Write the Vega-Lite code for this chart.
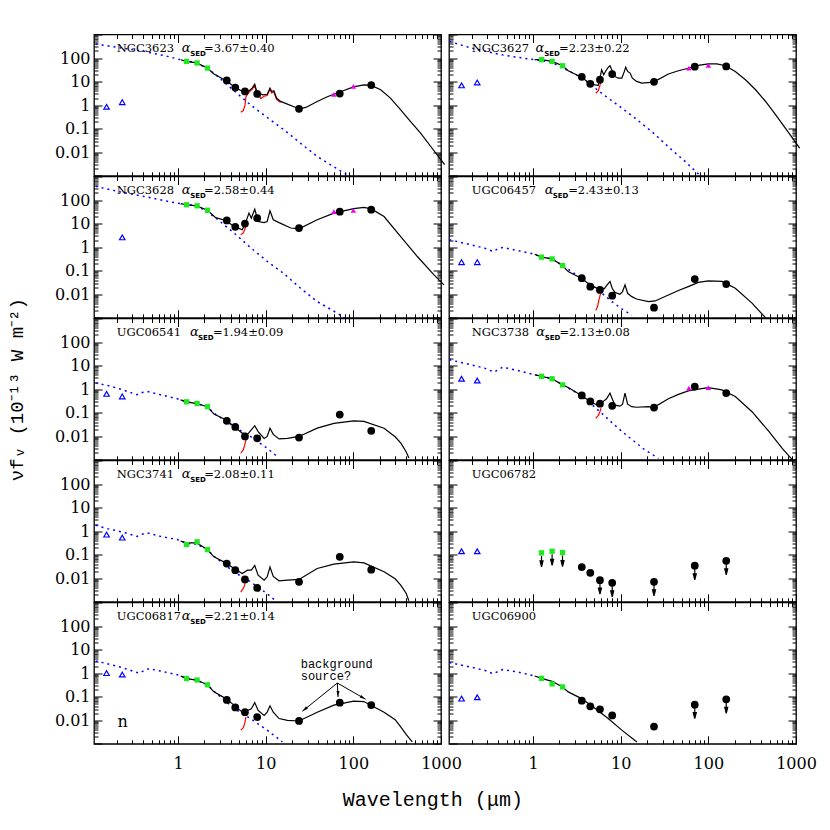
{
"$schema":"https://vega.github.io/schema/vega-lite/v6.json",
"background":"white",
"padding":{"left":6,"top":25.5,"right":5,"bottom":5},
"title":{"text":"Wavelength (μm)","orient":"bottom","anchor":"middle","font":"Liberation Mono","fontSize":20,"fontWeight":"normal","color":"black","offset":14,"dx":21},
"bounds":"flush",
"columns":2,
"spacing":{"row":0,"column":8},
"concat":[
{"width":347,"height":141.3,"resolve":{"axis":{"x":"independent","y":"independent"}},"layer":[
{"data":{"name":"p1"},"transform":[{"filter":"datum.s=='st'"}],"mark":{"type":"line","color":"#0000ff","strokeDash":[2,4],"strokeWidth":1.5},"encoding":{"x":{"field":"w","type":"quantitative","scale":{"type":"log","domain":[0.11,1000],"nice":false},"axis":{"orient":"bottom","values":[0.2,0.3,0.4,0.5,0.6,0.7,0.8,0.9,1,2,3,4,5,6,7,8,9,10,20,30,40,50,60,70,80,90,100,200,300,400,500,600,700,800,900,1000],"tickSize":{"condition":{"test":"abs(log(datum.value)/LN10-round(log(datum.value)/LN10))<0.01","value":-8},"value":-4},"labels":false,"title":null}},"y":{"field":"f","type":"quantitative","scale":{"type":"log","domain":[0.001,1000],"nice":false},"axis":{"orient":"left","values":[0.001,0.002,0.003,0.004,0.005,0.006,0.007,0.008,0.009,0.01,0.02,0.03,0.04,0.05,0.06,0.07,0.08,0.09,0.1,0.2,0.3,0.4,0.5,0.6,0.7,0.8,0.9,1,2,3,4,5,6,7,8,9,10,20,30,40,50,60,70,80,90,100,200,300,400,500,600,700,800,900,1000],"tickSize":{"condition":{"test":"abs(log(datum.value)/LN10-round(log(datum.value)/LN10))<0.01","value":-8},"value":-4},"labelPadding":12,"labelExpr":"abs(log(datum.value)/LN10-round(log(datum.value)/LN10))<0.01&&datum.value>0.005&&datum.value<500?format(datum.value,'~g'):''","title":null}}}},
{"data":{"name":"p1"},"transform":[{"filter":"datum.s=='irs'"}],"mark":{"type":"line","color":"#ff0000","strokeWidth":1.2},"encoding":{"x":{"field":"w","type":"quantitative","scale":{"type":"log","domain":[0.11,1000],"nice":false},"axis":{"orient":"top","values":[0.2,0.3,0.4,0.5,0.6,0.7,0.8,0.9,1,2,3,4,5,6,7,8,9,10,20,30,40,50,60,70,80,90,100,200,300,400,500,600,700,800,900,1000],"tickSize":{"condition":{"test":"abs(log(datum.value)/LN10-round(log(datum.value)/LN10))<0.01","value":-8},"value":-4},"labels":false,"title":null}},"y":{"field":"f","type":"quantitative","scale":{"type":"log","domain":[0.001,1000],"nice":false},"axis":{"orient":"right","values":[0.001,0.002,0.003,0.004,0.005,0.006,0.007,0.008,0.009,0.01,0.02,0.03,0.04,0.05,0.06,0.07,0.08,0.09,0.1,0.2,0.3,0.4,0.5,0.6,0.7,0.8,0.9,1,2,3,4,5,6,7,8,9,10,20,30,40,50,60,70,80,90,100,200,300,400,500,600,700,800,900,1000],"tickSize":{"condition":{"test":"abs(log(datum.value)/LN10-round(log(datum.value)/LN10))<0.01","value":-8},"value":-4},"labels":false,"title":null}}}},
{"data":{"name":"p1"},"transform":[{"filter":"datum.s=='tot'"}],"mark":{"type":"line","color":"black","strokeWidth":1.2},"encoding":{"x":{"field":"w","type":"quantitative","scale":{"type":"log","domain":[0.11,1000],"nice":false},"axis":null},"y":{"field":"f","type":"quantitative","scale":{"type":"log","domain":[0.001,1000],"nice":false},"axis":null}}},
{"data":{"name":"p1"},"transform":[{"filter":"datum.s=='jhk'"}],"mark":{"type":"point","shape":"square","filled":true,"color":"#1ee81e","size":28},"encoding":{"x":{"field":"w","type":"quantitative","scale":{"type":"log","domain":[0.11,1000],"nice":false},"axis":null},"y":{"field":"f","type":"quantitative","scale":{"type":"log","domain":[0.001,1000],"nice":false},"axis":null}}},
{"data":{"name":"p1"},"transform":[{"filter":"datum.s=='ph'"}],"mark":{"type":"point","shape":"circle","filled":true,"color":"black","size":60},"encoding":{"x":{"field":"w","type":"quantitative","scale":{"type":"log","domain":[0.11,1000],"nice":false},"axis":null},"y":{"field":"f","type":"quantitative","scale":{"type":"log","domain":[0.001,1000],"nice":false},"axis":null}}},
{"data":{"name":"p1"},"transform":[{"filter":"datum.s=='iso'"}],"mark":{"type":"point","shape":"triangle-up","filled":true,"color":"#ee00ee","size":30},"encoding":{"x":{"field":"w","type":"quantitative","scale":{"type":"log","domain":[0.11,1000],"nice":false},"axis":null},"y":{"field":"f","type":"quantitative","scale":{"type":"log","domain":[0.001,1000],"nice":false},"axis":null}}},
{"data":{"name":"p1"},"transform":[{"filter":"datum.s=='uv'"}],"mark":{"type":"point","shape":"triangle-up","filled":false,"color":"#0000ff","strokeWidth":1.2,"size":30},"encoding":{"x":{"field":"w","type":"quantitative","scale":{"type":"log","domain":[0.11,1000],"nice":false},"axis":null},"y":{"field":"f","type":"quantitative","scale":{"type":"log","domain":[0.001,1000],"nice":false},"axis":null}}},
{"data":{"values":[{}]},"mark":{"type":"text","align":"left","baseline":"alphabetic","font":"DejaVu Serif","fontSize":11.5},"encoding":{"x":{"datum":0.2,"type":"quantitative","scale":{"type":"log","domain":[0.11,1000],"nice":false},"axis":null},"y":{"datum":180,"type":"quantitative","scale":{"type":"log","domain":[0.001,1000],"nice":false},"axis":null},"text":{"value":"NGC3623"}}},
{"data":{"values":[{}]},"mark":{"type":"text","align":"left","baseline":"alphabetic","font":"DejaVu Serif","fontStyle":"italic","fontSize":13},"encoding":{"x":{"datum":1.1,"type":"quantitative","scale":{"type":"log","domain":[0.11,1000],"nice":false},"axis":null},"y":{"datum":180,"type":"quantitative","scale":{"type":"log","domain":[0.001,1000],"nice":false},"axis":null},"text":{"value":"α"}}},
{"data":{"values":[{}]},"mark":{"type":"text","align":"left","baseline":"alphabetic","font":"DejaVu Sans","fontWeight":"bold","fontSize":7,"dy":4},"encoding":{"x":{"datum":1.38,"type":"quantitative","scale":{"type":"log","domain":[0.11,1000],"nice":false},"axis":null},"y":{"datum":180,"type":"quantitative","scale":{"type":"log","domain":[0.001,1000],"nice":false},"axis":null},"text":{"value":"SED"}}},
{"data":{"values":[{}]},"mark":{"type":"text","align":"left","baseline":"alphabetic","font":"DejaVu Serif","fontSize":11.5},"encoding":{"x":{"datum":1.98,"type":"quantitative","scale":{"type":"log","domain":[0.11,1000],"nice":false},"axis":null},"y":{"datum":180,"type":"quantitative","scale":{"type":"log","domain":[0.001,1000],"nice":false},"axis":null},"text":{"value":"=3.67±0.40"}}}
]},
{"width":347,"height":141.3,"resolve":{"axis":{"x":"independent","y":"independent"}},"layer":[
{"data":{"name":"p2"},"transform":[{"filter":"datum.s=='st'"}],"mark":{"type":"line","color":"#0000ff","strokeDash":[2,4],"strokeWidth":1.5},"encoding":{"x":{"field":"w","type":"quantitative","scale":{"type":"log","domain":[0.11,1000],"nice":false},"axis":{"orient":"bottom","values":[0.2,0.3,0.4,0.5,0.6,0.7,0.8,0.9,1,2,3,4,5,6,7,8,9,10,20,30,40,50,60,70,80,90,100,200,300,400,500,600,700,800,900,1000],"tickSize":{"condition":{"test":"abs(log(datum.value)/LN10-round(log(datum.value)/LN10))<0.01","value":-8},"value":-4},"labels":false,"title":null}},"y":{"field":"f","type":"quantitative","scale":{"type":"log","domain":[0.001,1000],"nice":false},"axis":{"orient":"left","values":[0.001,0.002,0.003,0.004,0.005,0.006,0.007,0.008,0.009,0.01,0.02,0.03,0.04,0.05,0.06,0.07,0.08,0.09,0.1,0.2,0.3,0.4,0.5,0.6,0.7,0.8,0.9,1,2,3,4,5,6,7,8,9,10,20,30,40,50,60,70,80,90,100,200,300,400,500,600,700,800,900,1000],"tickSize":{"condition":{"test":"abs(log(datum.value)/LN10-round(log(datum.value)/LN10))<0.01","value":-8},"value":-4},"labels":false,"title":null}}}},
{"data":{"name":"p2"},"transform":[{"filter":"datum.s=='irs'"}],"mark":{"type":"line","color":"#ff0000","strokeWidth":1.2},"encoding":{"x":{"field":"w","type":"quantitative","scale":{"type":"log","domain":[0.11,1000],"nice":false},"axis":{"orient":"top","values":[0.2,0.3,0.4,0.5,0.6,0.7,0.8,0.9,1,2,3,4,5,6,7,8,9,10,20,30,40,50,60,70,80,90,100,200,300,400,500,600,700,800,900,1000],"tickSize":{"condition":{"test":"abs(log(datum.value)/LN10-round(log(datum.value)/LN10))<0.01","value":-8},"value":-4},"labels":false,"title":null}},"y":{"field":"f","type":"quantitative","scale":{"type":"log","domain":[0.001,1000],"nice":false},"axis":{"orient":"right","values":[0.001,0.002,0.003,0.004,0.005,0.006,0.007,0.008,0.009,0.01,0.02,0.03,0.04,0.05,0.06,0.07,0.08,0.09,0.1,0.2,0.3,0.4,0.5,0.6,0.7,0.8,0.9,1,2,3,4,5,6,7,8,9,10,20,30,40,50,60,70,80,90,100,200,300,400,500,600,700,800,900,1000],"tickSize":{"condition":{"test":"abs(log(datum.value)/LN10-round(log(datum.value)/LN10))<0.01","value":-8},"value":-4},"labels":false,"title":null}}}},
{"data":{"name":"p2"},"transform":[{"filter":"datum.s=='tot'"}],"mark":{"type":"line","color":"black","strokeWidth":1.2},"encoding":{"x":{"field":"w","type":"quantitative","scale":{"type":"log","domain":[0.11,1000],"nice":false},"axis":null},"y":{"field":"f","type":"quantitative","scale":{"type":"log","domain":[0.001,1000],"nice":false},"axis":null}}},
{"data":{"name":"p2"},"transform":[{"filter":"datum.s=='jhk'"}],"mark":{"type":"point","shape":"square","filled":true,"color":"#1ee81e","size":28},"encoding":{"x":{"field":"w","type":"quantitative","scale":{"type":"log","domain":[0.11,1000],"nice":false},"axis":null},"y":{"field":"f","type":"quantitative","scale":{"type":"log","domain":[0.001,1000],"nice":false},"axis":null}}},
{"data":{"name":"p2"},"transform":[{"filter":"datum.s=='ph'"}],"mark":{"type":"point","shape":"circle","filled":true,"color":"black","size":60},"encoding":{"x":{"field":"w","type":"quantitative","scale":{"type":"log","domain":[0.11,1000],"nice":false},"axis":null},"y":{"field":"f","type":"quantitative","scale":{"type":"log","domain":[0.001,1000],"nice":false},"axis":null}}},
{"data":{"name":"p2"},"transform":[{"filter":"datum.s=='iso'"}],"mark":{"type":"point","shape":"triangle-up","filled":true,"color":"#ee00ee","size":30},"encoding":{"x":{"field":"w","type":"quantitative","scale":{"type":"log","domain":[0.11,1000],"nice":false},"axis":null},"y":{"field":"f","type":"quantitative","scale":{"type":"log","domain":[0.001,1000],"nice":false},"axis":null}}},
{"data":{"name":"p2"},"transform":[{"filter":"datum.s=='uv'"}],"mark":{"type":"point","shape":"triangle-up","filled":false,"color":"#0000ff","strokeWidth":1.2,"size":30},"encoding":{"x":{"field":"w","type":"quantitative","scale":{"type":"log","domain":[0.11,1000],"nice":false},"axis":null},"y":{"field":"f","type":"quantitative","scale":{"type":"log","domain":[0.001,1000],"nice":false},"axis":null}}},
{"data":{"values":[{}]},"mark":{"type":"text","align":"left","baseline":"alphabetic","font":"DejaVu Serif","fontSize":11.5},"encoding":{"x":{"datum":0.2,"type":"quantitative","scale":{"type":"log","domain":[0.11,1000],"nice":false},"axis":null},"y":{"datum":180,"type":"quantitative","scale":{"type":"log","domain":[0.001,1000],"nice":false},"axis":null},"text":{"value":"NGC3627"}}},
{"data":{"values":[{}]},"mark":{"type":"text","align":"left","baseline":"alphabetic","font":"DejaVu Serif","fontStyle":"italic","fontSize":13},"encoding":{"x":{"datum":1.07,"type":"quantitative","scale":{"type":"log","domain":[0.11,1000],"nice":false},"axis":null},"y":{"datum":180,"type":"quantitative","scale":{"type":"log","domain":[0.001,1000],"nice":false},"axis":null},"text":{"value":"α"}}},
{"data":{"values":[{}]},"mark":{"type":"text","align":"left","baseline":"alphabetic","font":"DejaVu Sans","fontWeight":"bold","fontSize":7,"dy":4},"encoding":{"x":{"datum":1.34,"type":"quantitative","scale":{"type":"log","domain":[0.11,1000],"nice":false},"axis":null},"y":{"datum":180,"type":"quantitative","scale":{"type":"log","domain":[0.001,1000],"nice":false},"axis":null},"text":{"value":"SED"}}},
{"data":{"values":[{}]},"mark":{"type":"text","align":"left","baseline":"alphabetic","font":"DejaVu Serif","fontSize":11.5},"encoding":{"x":{"datum":1.98,"type":"quantitative","scale":{"type":"log","domain":[0.11,1000],"nice":false},"axis":null},"y":{"datum":180,"type":"quantitative","scale":{"type":"log","domain":[0.001,1000],"nice":false},"axis":null},"text":{"value":"=2.23±0.22"}}}
]},
{"width":347,"height":141.3,"resolve":{"axis":{"x":"independent","y":"independent"}},"layer":[
{"data":{"name":"p3"},"transform":[{"filter":"datum.s=='st'"}],"mark":{"type":"line","color":"#0000ff","strokeDash":[2,4],"strokeWidth":1.5},"encoding":{"x":{"field":"w","type":"quantitative","scale":{"type":"log","domain":[0.11,1000],"nice":false},"axis":{"orient":"bottom","values":[0.2,0.3,0.4,0.5,0.6,0.7,0.8,0.9,1,2,3,4,5,6,7,8,9,10,20,30,40,50,60,70,80,90,100,200,300,400,500,600,700,800,900,1000],"tickSize":{"condition":{"test":"abs(log(datum.value)/LN10-round(log(datum.value)/LN10))<0.01","value":-8},"value":-4},"labels":false,"title":null}},"y":{"field":"f","type":"quantitative","scale":{"type":"log","domain":[0.001,1000],"nice":false},"axis":{"orient":"left","values":[0.001,0.002,0.003,0.004,0.005,0.006,0.007,0.008,0.009,0.01,0.02,0.03,0.04,0.05,0.06,0.07,0.08,0.09,0.1,0.2,0.3,0.4,0.5,0.6,0.7,0.8,0.9,1,2,3,4,5,6,7,8,9,10,20,30,40,50,60,70,80,90,100,200,300,400,500,600,700,800,900,1000],"tickSize":{"condition":{"test":"abs(log(datum.value)/LN10-round(log(datum.value)/LN10))<0.01","value":-8},"value":-4},"labelPadding":12,"labelExpr":"abs(log(datum.value)/LN10-round(log(datum.value)/LN10))<0.01&&datum.value>0.005&&datum.value<500?format(datum.value,'~g'):''","title":null}}}},
{"data":{"name":"p3"},"transform":[{"filter":"datum.s=='irs'"}],"mark":{"type":"line","color":"#ff0000","strokeWidth":1.2},"encoding":{"x":{"field":"w","type":"quantitative","scale":{"type":"log","domain":[0.11,1000],"nice":false},"axis":{"orient":"top","values":[0.2,0.3,0.4,0.5,0.6,0.7,0.8,0.9,1,2,3,4,5,6,7,8,9,10,20,30,40,50,60,70,80,90,100,200,300,400,500,600,700,800,900,1000],"tickSize":{"condition":{"test":"abs(log(datum.value)/LN10-round(log(datum.value)/LN10))<0.01","value":-8},"value":-4},"labels":false,"title":null}},"y":{"field":"f","type":"quantitative","scale":{"type":"log","domain":[0.001,1000],"nice":false},"axis":{"orient":"right","values":[0.001,0.002,0.003,0.004,0.005,0.006,0.007,0.008,0.009,0.01,0.02,0.03,0.04,0.05,0.06,0.07,0.08,0.09,0.1,0.2,0.3,0.4,0.5,0.6,0.7,0.8,0.9,1,2,3,4,5,6,7,8,9,10,20,30,40,50,60,70,80,90,100,200,300,400,500,600,700,800,900,1000],"tickSize":{"condition":{"test":"abs(log(datum.value)/LN10-round(log(datum.value)/LN10))<0.01","value":-8},"value":-4},"labels":false,"title":null}}}},
{"data":{"name":"p3"},"transform":[{"filter":"datum.s=='tot'"}],"mark":{"type":"line","color":"black","strokeWidth":1.2},"encoding":{"x":{"field":"w","type":"quantitative","scale":{"type":"log","domain":[0.11,1000],"nice":false},"axis":null},"y":{"field":"f","type":"quantitative","scale":{"type":"log","domain":[0.001,1000],"nice":false},"axis":null}}},
{"data":{"name":"p3"},"transform":[{"filter":"datum.s=='jhk'"}],"mark":{"type":"point","shape":"square","filled":true,"color":"#1ee81e","size":28},"encoding":{"x":{"field":"w","type":"quantitative","scale":{"type":"log","domain":[0.11,1000],"nice":false},"axis":null},"y":{"field":"f","type":"quantitative","scale":{"type":"log","domain":[0.001,1000],"nice":false},"axis":null}}},
{"data":{"name":"p3"},"transform":[{"filter":"datum.s=='ph'"}],"mark":{"type":"point","shape":"circle","filled":true,"color":"black","size":60},"encoding":{"x":{"field":"w","type":"quantitative","scale":{"type":"log","domain":[0.11,1000],"nice":false},"axis":null},"y":{"field":"f","type":"quantitative","scale":{"type":"log","domain":[0.001,1000],"nice":false},"axis":null}}},
{"data":{"name":"p3"},"transform":[{"filter":"datum.s=='iso'"}],"mark":{"type":"point","shape":"triangle-up","filled":true,"color":"#ee00ee","size":30},"encoding":{"x":{"field":"w","type":"quantitative","scale":{"type":"log","domain":[0.11,1000],"nice":false},"axis":null},"y":{"field":"f","type":"quantitative","scale":{"type":"log","domain":[0.001,1000],"nice":false},"axis":null}}},
{"data":{"name":"p3"},"transform":[{"filter":"datum.s=='uv'"}],"mark":{"type":"point","shape":"triangle-up","filled":false,"color":"#0000ff","strokeWidth":1.2,"size":30},"encoding":{"x":{"field":"w","type":"quantitative","scale":{"type":"log","domain":[0.11,1000],"nice":false},"axis":null},"y":{"field":"f","type":"quantitative","scale":{"type":"log","domain":[0.001,1000],"nice":false},"axis":null}}},
{"data":{"values":[{}]},"mark":{"type":"text","align":"left","baseline":"alphabetic","font":"DejaVu Serif","fontSize":11.5},"encoding":{"x":{"datum":0.2,"type":"quantitative","scale":{"type":"log","domain":[0.11,1000],"nice":false},"axis":null},"y":{"datum":180,"type":"quantitative","scale":{"type":"log","domain":[0.001,1000],"nice":false},"axis":null},"text":{"value":"NGC3628"}}},
{"data":{"values":[{}]},"mark":{"type":"text","align":"left","baseline":"alphabetic","font":"DejaVu Serif","fontStyle":"italic","fontSize":13},"encoding":{"x":{"datum":1.1,"type":"quantitative","scale":{"type":"log","domain":[0.11,1000],"nice":false},"axis":null},"y":{"datum":180,"type":"quantitative","scale":{"type":"log","domain":[0.001,1000],"nice":false},"axis":null},"text":{"value":"α"}}},
{"data":{"values":[{}]},"mark":{"type":"text","align":"left","baseline":"alphabetic","font":"DejaVu Sans","fontWeight":"bold","fontSize":7,"dy":4},"encoding":{"x":{"datum":1.38,"type":"quantitative","scale":{"type":"log","domain":[0.11,1000],"nice":false},"axis":null},"y":{"datum":180,"type":"quantitative","scale":{"type":"log","domain":[0.001,1000],"nice":false},"axis":null},"text":{"value":"SED"}}},
{"data":{"values":[{}]},"mark":{"type":"text","align":"left","baseline":"alphabetic","font":"DejaVu Serif","fontSize":11.5},"encoding":{"x":{"datum":1.98,"type":"quantitative","scale":{"type":"log","domain":[0.11,1000],"nice":false},"axis":null},"y":{"datum":180,"type":"quantitative","scale":{"type":"log","domain":[0.001,1000],"nice":false},"axis":null},"text":{"value":"=2.58±0.44"}}}
]},
{"width":347,"height":141.3,"resolve":{"axis":{"x":"independent","y":"independent"}},"layer":[
{"data":{"name":"p4"},"transform":[{"filter":"datum.s=='st'"}],"mark":{"type":"line","color":"#0000ff","strokeDash":[2,4],"strokeWidth":1.5},"encoding":{"x":{"field":"w","type":"quantitative","scale":{"type":"log","domain":[0.11,1000],"nice":false},"axis":{"orient":"bottom","values":[0.2,0.3,0.4,0.5,0.6,0.7,0.8,0.9,1,2,3,4,5,6,7,8,9,10,20,30,40,50,60,70,80,90,100,200,300,400,500,600,700,800,900,1000],"tickSize":{"condition":{"test":"abs(log(datum.value)/LN10-round(log(datum.value)/LN10))<0.01","value":-8},"value":-4},"labels":false,"title":null}},"y":{"field":"f","type":"quantitative","scale":{"type":"log","domain":[0.001,1000],"nice":false},"axis":{"orient":"left","values":[0.001,0.002,0.003,0.004,0.005,0.006,0.007,0.008,0.009,0.01,0.02,0.03,0.04,0.05,0.06,0.07,0.08,0.09,0.1,0.2,0.3,0.4,0.5,0.6,0.7,0.8,0.9,1,2,3,4,5,6,7,8,9,10,20,30,40,50,60,70,80,90,100,200,300,400,500,600,700,800,900,1000],"tickSize":{"condition":{"test":"abs(log(datum.value)/LN10-round(log(datum.value)/LN10))<0.01","value":-8},"value":-4},"labels":false,"title":null}}}},
{"data":{"name":"p4"},"transform":[{"filter":"datum.s=='irs'"}],"mark":{"type":"line","color":"#ff0000","strokeWidth":1.2},"encoding":{"x":{"field":"w","type":"quantitative","scale":{"type":"log","domain":[0.11,1000],"nice":false},"axis":{"orient":"top","values":[0.2,0.3,0.4,0.5,0.6,0.7,0.8,0.9,1,2,3,4,5,6,7,8,9,10,20,30,40,50,60,70,80,90,100,200,300,400,500,600,700,800,900,1000],"tickSize":{"condition":{"test":"abs(log(datum.value)/LN10-round(log(datum.value)/LN10))<0.01","value":-8},"value":-4},"labels":false,"title":null}},"y":{"field":"f","type":"quantitative","scale":{"type":"log","domain":[0.001,1000],"nice":false},"axis":{"orient":"right","values":[0.001,0.002,0.003,0.004,0.005,0.006,0.007,0.008,0.009,0.01,0.02,0.03,0.04,0.05,0.06,0.07,0.08,0.09,0.1,0.2,0.3,0.4,0.5,0.6,0.7,0.8,0.9,1,2,3,4,5,6,7,8,9,10,20,30,40,50,60,70,80,90,100,200,300,400,500,600,700,800,900,1000],"tickSize":{"condition":{"test":"abs(log(datum.value)/LN10-round(log(datum.value)/LN10))<0.01","value":-8},"value":-4},"labels":false,"title":null}}}},
{"data":{"name":"p4"},"transform":[{"filter":"datum.s=='tot'"}],"mark":{"type":"line","color":"black","strokeWidth":1.2},"encoding":{"x":{"field":"w","type":"quantitative","scale":{"type":"log","domain":[0.11,1000],"nice":false},"axis":null},"y":{"field":"f","type":"quantitative","scale":{"type":"log","domain":[0.001,1000],"nice":false},"axis":null}}},
{"data":{"name":"p4"},"transform":[{"filter":"datum.s=='jhk'"}],"mark":{"type":"point","shape":"square","filled":true,"color":"#1ee81e","size":28},"encoding":{"x":{"field":"w","type":"quantitative","scale":{"type":"log","domain":[0.11,1000],"nice":false},"axis":null},"y":{"field":"f","type":"quantitative","scale":{"type":"log","domain":[0.001,1000],"nice":false},"axis":null}}},
{"data":{"name":"p4"},"transform":[{"filter":"datum.s=='ph'"}],"mark":{"type":"point","shape":"circle","filled":true,"color":"black","size":60},"encoding":{"x":{"field":"w","type":"quantitative","scale":{"type":"log","domain":[0.11,1000],"nice":false},"axis":null},"y":{"field":"f","type":"quantitative","scale":{"type":"log","domain":[0.001,1000],"nice":false},"axis":null}}},
{"data":{"name":"p4"},"transform":[{"filter":"datum.s=='uv'"}],"mark":{"type":"point","shape":"triangle-up","filled":false,"color":"#0000ff","strokeWidth":1.2,"size":30},"encoding":{"x":{"field":"w","type":"quantitative","scale":{"type":"log","domain":[0.11,1000],"nice":false},"axis":null},"y":{"field":"f","type":"quantitative","scale":{"type":"log","domain":[0.001,1000],"nice":false},"axis":null}}},
{"data":{"values":[{}]},"mark":{"type":"text","align":"left","baseline":"alphabetic","font":"DejaVu Serif","fontSize":11.5},"encoding":{"x":{"datum":0.2,"type":"quantitative","scale":{"type":"log","domain":[0.11,1000],"nice":false},"axis":null},"y":{"datum":180,"type":"quantitative","scale":{"type":"log","domain":[0.001,1000],"nice":false},"axis":null},"text":{"value":"UGC06457"}}},
{"data":{"values":[{}]},"mark":{"type":"text","align":"left","baseline":"alphabetic","font":"DejaVu Serif","fontStyle":"italic","fontSize":13},"encoding":{"x":{"datum":1.36,"type":"quantitative","scale":{"type":"log","domain":[0.11,1000],"nice":false},"axis":null},"y":{"datum":180,"type":"quantitative","scale":{"type":"log","domain":[0.001,1000],"nice":false},"axis":null},"text":{"value":"α"}}},
{"data":{"values":[{}]},"mark":{"type":"text","align":"left","baseline":"alphabetic","font":"DejaVu Sans","fontWeight":"bold","fontSize":7,"dy":4},"encoding":{"x":{"datum":1.68,"type":"quantitative","scale":{"type":"log","domain":[0.11,1000],"nice":false},"axis":null},"y":{"datum":180,"type":"quantitative","scale":{"type":"log","domain":[0.001,1000],"nice":false},"axis":null},"text":{"value":"SED"}}},
{"data":{"values":[{}]},"mark":{"type":"text","align":"left","baseline":"alphabetic","font":"DejaVu Serif","fontSize":11.5},"encoding":{"x":{"datum":2.52,"type":"quantitative","scale":{"type":"log","domain":[0.11,1000],"nice":false},"axis":null},"y":{"datum":180,"type":"quantitative","scale":{"type":"log","domain":[0.001,1000],"nice":false},"axis":null},"text":{"value":"=2.43±0.13"}}}
]},
{"width":347,"height":141.3,"resolve":{"axis":{"x":"independent","y":"independent"}},"layer":[
{"data":{"name":"p5"},"transform":[{"filter":"datum.s=='st'"}],"mark":{"type":"line","color":"#0000ff","strokeDash":[2,4],"strokeWidth":1.5},"encoding":{"x":{"field":"w","type":"quantitative","scale":{"type":"log","domain":[0.11,1000],"nice":false},"axis":{"orient":"bottom","values":[0.2,0.3,0.4,0.5,0.6,0.7,0.8,0.9,1,2,3,4,5,6,7,8,9,10,20,30,40,50,60,70,80,90,100,200,300,400,500,600,700,800,900,1000],"tickSize":{"condition":{"test":"abs(log(datum.value)/LN10-round(log(datum.value)/LN10))<0.01","value":-8},"value":-4},"labels":false,"title":null}},"y":{"field":"f","type":"quantitative","scale":{"type":"log","domain":[0.001,1000],"nice":false},"axis":{"orient":"left","values":[0.001,0.002,0.003,0.004,0.005,0.006,0.007,0.008,0.009,0.01,0.02,0.03,0.04,0.05,0.06,0.07,0.08,0.09,0.1,0.2,0.3,0.4,0.5,0.6,0.7,0.8,0.9,1,2,3,4,5,6,7,8,9,10,20,30,40,50,60,70,80,90,100,200,300,400,500,600,700,800,900,1000],"tickSize":{"condition":{"test":"abs(log(datum.value)/LN10-round(log(datum.value)/LN10))<0.01","value":-8},"value":-4},"labelPadding":12,"labelExpr":"abs(log(datum.value)/LN10-round(log(datum.value)/LN10))<0.01&&datum.value>0.005&&datum.value<500?format(datum.value,'~g'):''","title":"νfᵥ (10⁻¹³ W m⁻²)","titleFont":"Liberation Mono","titleFontSize":19,"titleFontWeight":"normal","titleColor":"black","titlePadding":28}}}},
{"data":{"name":"p5"},"transform":[{"filter":"datum.s=='irs'"}],"mark":{"type":"line","color":"#ff0000","strokeWidth":1.2},"encoding":{"x":{"field":"w","type":"quantitative","scale":{"type":"log","domain":[0.11,1000],"nice":false},"axis":{"orient":"top","values":[0.2,0.3,0.4,0.5,0.6,0.7,0.8,0.9,1,2,3,4,5,6,7,8,9,10,20,30,40,50,60,70,80,90,100,200,300,400,500,600,700,800,900,1000],"tickSize":{"condition":{"test":"abs(log(datum.value)/LN10-round(log(datum.value)/LN10))<0.01","value":-8},"value":-4},"labels":false,"title":null}},"y":{"field":"f","type":"quantitative","scale":{"type":"log","domain":[0.001,1000],"nice":false},"axis":{"orient":"right","values":[0.001,0.002,0.003,0.004,0.005,0.006,0.007,0.008,0.009,0.01,0.02,0.03,0.04,0.05,0.06,0.07,0.08,0.09,0.1,0.2,0.3,0.4,0.5,0.6,0.7,0.8,0.9,1,2,3,4,5,6,7,8,9,10,20,30,40,50,60,70,80,90,100,200,300,400,500,600,700,800,900,1000],"tickSize":{"condition":{"test":"abs(log(datum.value)/LN10-round(log(datum.value)/LN10))<0.01","value":-8},"value":-4},"labels":false,"title":null}}}},
{"data":{"name":"p5"},"transform":[{"filter":"datum.s=='tot'"}],"mark":{"type":"line","color":"black","strokeWidth":1.2},"encoding":{"x":{"field":"w","type":"quantitative","scale":{"type":"log","domain":[0.11,1000],"nice":false},"axis":null},"y":{"field":"f","type":"quantitative","scale":{"type":"log","domain":[0.001,1000],"nice":false},"axis":null}}},
{"data":{"name":"p5"},"transform":[{"filter":"datum.s=='jhk'"}],"mark":{"type":"point","shape":"square","filled":true,"color":"#1ee81e","size":28},"encoding":{"x":{"field":"w","type":"quantitative","scale":{"type":"log","domain":[0.11,1000],"nice":false},"axis":null},"y":{"field":"f","type":"quantitative","scale":{"type":"log","domain":[0.001,1000],"nice":false},"axis":null}}},
{"data":{"name":"p5"},"transform":[{"filter":"datum.s=='ph'"}],"mark":{"type":"point","shape":"circle","filled":true,"color":"black","size":60},"encoding":{"x":{"field":"w","type":"quantitative","scale":{"type":"log","domain":[0.11,1000],"nice":false},"axis":null},"y":{"field":"f","type":"quantitative","scale":{"type":"log","domain":[0.001,1000],"nice":false},"axis":null}}},
{"data":{"name":"p5"},"transform":[{"filter":"datum.s=='uv'"}],"mark":{"type":"point","shape":"triangle-up","filled":false,"color":"#0000ff","strokeWidth":1.2,"size":30},"encoding":{"x":{"field":"w","type":"quantitative","scale":{"type":"log","domain":[0.11,1000],"nice":false},"axis":null},"y":{"field":"f","type":"quantitative","scale":{"type":"log","domain":[0.001,1000],"nice":false},"axis":null}}},
{"data":{"values":[{}]},"mark":{"type":"text","align":"left","baseline":"alphabetic","font":"DejaVu Serif","fontSize":11.5},"encoding":{"x":{"datum":0.2,"type":"quantitative","scale":{"type":"log","domain":[0.11,1000],"nice":false},"axis":null},"y":{"datum":180,"type":"quantitative","scale":{"type":"log","domain":[0.001,1000],"nice":false},"axis":null},"text":{"value":"UGC06541"}}},
{"data":{"values":[{}]},"mark":{"type":"text","align":"left","baseline":"alphabetic","font":"DejaVu Serif","fontStyle":"italic","fontSize":13},"encoding":{"x":{"datum":1.37,"type":"quantitative","scale":{"type":"log","domain":[0.11,1000],"nice":false},"axis":null},"y":{"datum":180,"type":"quantitative","scale":{"type":"log","domain":[0.001,1000],"nice":false},"axis":null},"text":{"value":"α"}}},
{"data":{"values":[{}]},"mark":{"type":"text","align":"left","baseline":"alphabetic","font":"DejaVu Sans","fontWeight":"bold","fontSize":7,"dy":4},"encoding":{"x":{"datum":1.69,"type":"quantitative","scale":{"type":"log","domain":[0.11,1000],"nice":false},"axis":null},"y":{"datum":180,"type":"quantitative","scale":{"type":"log","domain":[0.001,1000],"nice":false},"axis":null},"text":{"value":"SED"}}},
{"data":{"values":[{}]},"mark":{"type":"text","align":"left","baseline":"alphabetic","font":"DejaVu Serif","fontSize":11.5},"encoding":{"x":{"datum":2.5,"type":"quantitative","scale":{"type":"log","domain":[0.11,1000],"nice":false},"axis":null},"y":{"datum":180,"type":"quantitative","scale":{"type":"log","domain":[0.001,1000],"nice":false},"axis":null},"text":{"value":"=1.94±0.09"}}}
]},
{"width":347,"height":141.3,"resolve":{"axis":{"x":"independent","y":"independent"}},"layer":[
{"data":{"name":"p6"},"transform":[{"filter":"datum.s=='st'"}],"mark":{"type":"line","color":"#0000ff","strokeDash":[2,4],"strokeWidth":1.5},"encoding":{"x":{"field":"w","type":"quantitative","scale":{"type":"log","domain":[0.11,1000],"nice":false},"axis":{"orient":"bottom","values":[0.2,0.3,0.4,0.5,0.6,0.7,0.8,0.9,1,2,3,4,5,6,7,8,9,10,20,30,40,50,60,70,80,90,100,200,300,400,500,600,700,800,900,1000],"tickSize":{"condition":{"test":"abs(log(datum.value)/LN10-round(log(datum.value)/LN10))<0.01","value":-8},"value":-4},"labels":false,"title":null}},"y":{"field":"f","type":"quantitative","scale":{"type":"log","domain":[0.001,1000],"nice":false},"axis":{"orient":"left","values":[0.001,0.002,0.003,0.004,0.005,0.006,0.007,0.008,0.009,0.01,0.02,0.03,0.04,0.05,0.06,0.07,0.08,0.09,0.1,0.2,0.3,0.4,0.5,0.6,0.7,0.8,0.9,1,2,3,4,5,6,7,8,9,10,20,30,40,50,60,70,80,90,100,200,300,400,500,600,700,800,900,1000],"tickSize":{"condition":{"test":"abs(log(datum.value)/LN10-round(log(datum.value)/LN10))<0.01","value":-8},"value":-4},"labels":false,"title":null}}}},
{"data":{"name":"p6"},"transform":[{"filter":"datum.s=='irs'"}],"mark":{"type":"line","color":"#ff0000","strokeWidth":1.2},"encoding":{"x":{"field":"w","type":"quantitative","scale":{"type":"log","domain":[0.11,1000],"nice":false},"axis":{"orient":"top","values":[0.2,0.3,0.4,0.5,0.6,0.7,0.8,0.9,1,2,3,4,5,6,7,8,9,10,20,30,40,50,60,70,80,90,100,200,300,400,500,600,700,800,900,1000],"tickSize":{"condition":{"test":"abs(log(datum.value)/LN10-round(log(datum.value)/LN10))<0.01","value":-8},"value":-4},"labels":false,"title":null}},"y":{"field":"f","type":"quantitative","scale":{"type":"log","domain":[0.001,1000],"nice":false},"axis":{"orient":"right","values":[0.001,0.002,0.003,0.004,0.005,0.006,0.007,0.008,0.009,0.01,0.02,0.03,0.04,0.05,0.06,0.07,0.08,0.09,0.1,0.2,0.3,0.4,0.5,0.6,0.7,0.8,0.9,1,2,3,4,5,6,7,8,9,10,20,30,40,50,60,70,80,90,100,200,300,400,500,600,700,800,900,1000],"tickSize":{"condition":{"test":"abs(log(datum.value)/LN10-round(log(datum.value)/LN10))<0.01","value":-8},"value":-4},"labels":false,"title":null}}}},
{"data":{"name":"p6"},"transform":[{"filter":"datum.s=='tot'"}],"mark":{"type":"line","color":"black","strokeWidth":1.2},"encoding":{"x":{"field":"w","type":"quantitative","scale":{"type":"log","domain":[0.11,1000],"nice":false},"axis":null},"y":{"field":"f","type":"quantitative","scale":{"type":"log","domain":[0.001,1000],"nice":false},"axis":null}}},
{"data":{"name":"p6"},"transform":[{"filter":"datum.s=='jhk'"}],"mark":{"type":"point","shape":"square","filled":true,"color":"#1ee81e","size":28},"encoding":{"x":{"field":"w","type":"quantitative","scale":{"type":"log","domain":[0.11,1000],"nice":false},"axis":null},"y":{"field":"f","type":"quantitative","scale":{"type":"log","domain":[0.001,1000],"nice":false},"axis":null}}},
{"data":{"name":"p6"},"transform":[{"filter":"datum.s=='ph'"}],"mark":{"type":"point","shape":"circle","filled":true,"color":"black","size":60},"encoding":{"x":{"field":"w","type":"quantitative","scale":{"type":"log","domain":[0.11,1000],"nice":false},"axis":null},"y":{"field":"f","type":"quantitative","scale":{"type":"log","domain":[0.001,1000],"nice":false},"axis":null}}},
{"data":{"name":"p6"},"transform":[{"filter":"datum.s=='iso'"}],"mark":{"type":"point","shape":"triangle-up","filled":true,"color":"#ee00ee","size":30},"encoding":{"x":{"field":"w","type":"quantitative","scale":{"type":"log","domain":[0.11,1000],"nice":false},"axis":null},"y":{"field":"f","type":"quantitative","scale":{"type":"log","domain":[0.001,1000],"nice":false},"axis":null}}},
{"data":{"name":"p6"},"transform":[{"filter":"datum.s=='uv'"}],"mark":{"type":"point","shape":"triangle-up","filled":false,"color":"#0000ff","strokeWidth":1.2,"size":30},"encoding":{"x":{"field":"w","type":"quantitative","scale":{"type":"log","domain":[0.11,1000],"nice":false},"axis":null},"y":{"field":"f","type":"quantitative","scale":{"type":"log","domain":[0.001,1000],"nice":false},"axis":null}}},
{"data":{"values":[{}]},"mark":{"type":"text","align":"left","baseline":"alphabetic","font":"DejaVu Serif","fontSize":11.5},"encoding":{"x":{"datum":0.2,"type":"quantitative","scale":{"type":"log","domain":[0.11,1000],"nice":false},"axis":null},"y":{"datum":180,"type":"quantitative","scale":{"type":"log","domain":[0.001,1000],"nice":false},"axis":null},"text":{"value":"NGC3738"}}},
{"data":{"values":[{}]},"mark":{"type":"text","align":"left","baseline":"alphabetic","font":"DejaVu Serif","fontStyle":"italic","fontSize":13},"encoding":{"x":{"datum":1.09,"type":"quantitative","scale":{"type":"log","domain":[0.11,1000],"nice":false},"axis":null},"y":{"datum":180,"type":"quantitative","scale":{"type":"log","domain":[0.001,1000],"nice":false},"axis":null},"text":{"value":"α"}}},
{"data":{"values":[{}]},"mark":{"type":"text","align":"left","baseline":"alphabetic","font":"DejaVu Sans","fontWeight":"bold","fontSize":7,"dy":4},"encoding":{"x":{"datum":1.36,"type":"quantitative","scale":{"type":"log","domain":[0.11,1000],"nice":false},"axis":null},"y":{"datum":180,"type":"quantitative","scale":{"type":"log","domain":[0.001,1000],"nice":false},"axis":null},"text":{"value":"SED"}}},
{"data":{"values":[{}]},"mark":{"type":"text","align":"left","baseline":"alphabetic","font":"DejaVu Serif","fontSize":11.5},"encoding":{"x":{"datum":2.0,"type":"quantitative","scale":{"type":"log","domain":[0.11,1000],"nice":false},"axis":null},"y":{"datum":180,"type":"quantitative","scale":{"type":"log","domain":[0.001,1000],"nice":false},"axis":null},"text":{"value":"=2.13±0.08"}}}
]},
{"width":347,"height":141.3,"resolve":{"axis":{"x":"independent","y":"independent"}},"layer":[
{"data":{"name":"p7"},"transform":[{"filter":"datum.s=='st'"}],"mark":{"type":"line","color":"#0000ff","strokeDash":[2,4],"strokeWidth":1.5},"encoding":{"x":{"field":"w","type":"quantitative","scale":{"type":"log","domain":[0.11,1000],"nice":false},"axis":{"orient":"bottom","values":[0.2,0.3,0.4,0.5,0.6,0.7,0.8,0.9,1,2,3,4,5,6,7,8,9,10,20,30,40,50,60,70,80,90,100,200,300,400,500,600,700,800,900,1000],"tickSize":{"condition":{"test":"abs(log(datum.value)/LN10-round(log(datum.value)/LN10))<0.01","value":-8},"value":-4},"labels":false,"title":null}},"y":{"field":"f","type":"quantitative","scale":{"type":"log","domain":[0.001,1000],"nice":false},"axis":{"orient":"left","values":[0.001,0.002,0.003,0.004,0.005,0.006,0.007,0.008,0.009,0.01,0.02,0.03,0.04,0.05,0.06,0.07,0.08,0.09,0.1,0.2,0.3,0.4,0.5,0.6,0.7,0.8,0.9,1,2,3,4,5,6,7,8,9,10,20,30,40,50,60,70,80,90,100,200,300,400,500,600,700,800,900,1000],"tickSize":{"condition":{"test":"abs(log(datum.value)/LN10-round(log(datum.value)/LN10))<0.01","value":-8},"value":-4},"labelPadding":12,"labelExpr":"abs(log(datum.value)/LN10-round(log(datum.value)/LN10))<0.01&&datum.value>0.005&&datum.value<500?format(datum.value,'~g'):''","title":null}}}},
{"data":{"name":"p7"},"transform":[{"filter":"datum.s=='irs'"}],"mark":{"type":"line","color":"#ff0000","strokeWidth":1.2},"encoding":{"x":{"field":"w","type":"quantitative","scale":{"type":"log","domain":[0.11,1000],"nice":false},"axis":{"orient":"top","values":[0.2,0.3,0.4,0.5,0.6,0.7,0.8,0.9,1,2,3,4,5,6,7,8,9,10,20,30,40,50,60,70,80,90,100,200,300,400,500,600,700,800,900,1000],"tickSize":{"condition":{"test":"abs(log(datum.value)/LN10-round(log(datum.value)/LN10))<0.01","value":-8},"value":-4},"labels":false,"title":null}},"y":{"field":"f","type":"quantitative","scale":{"type":"log","domain":[0.001,1000],"nice":false},"axis":{"orient":"right","values":[0.001,0.002,0.003,0.004,0.005,0.006,0.007,0.008,0.009,0.01,0.02,0.03,0.04,0.05,0.06,0.07,0.08,0.09,0.1,0.2,0.3,0.4,0.5,0.6,0.7,0.8,0.9,1,2,3,4,5,6,7,8,9,10,20,30,40,50,60,70,80,90,100,200,300,400,500,600,700,800,900,1000],"tickSize":{"condition":{"test":"abs(log(datum.value)/LN10-round(log(datum.value)/LN10))<0.01","value":-8},"value":-4},"labels":false,"title":null}}}},
{"data":{"name":"p7"},"transform":[{"filter":"datum.s=='tot'"}],"mark":{"type":"line","color":"black","strokeWidth":1.2},"encoding":{"x":{"field":"w","type":"quantitative","scale":{"type":"log","domain":[0.11,1000],"nice":false},"axis":null},"y":{"field":"f","type":"quantitative","scale":{"type":"log","domain":[0.001,1000],"nice":false},"axis":null}}},
{"data":{"name":"p7"},"transform":[{"filter":"datum.s=='jhk'"}],"mark":{"type":"point","shape":"square","filled":true,"color":"#1ee81e","size":28},"encoding":{"x":{"field":"w","type":"quantitative","scale":{"type":"log","domain":[0.11,1000],"nice":false},"axis":null},"y":{"field":"f","type":"quantitative","scale":{"type":"log","domain":[0.001,1000],"nice":false},"axis":null}}},
{"data":{"name":"p7"},"transform":[{"filter":"datum.s=='ph'"}],"mark":{"type":"point","shape":"circle","filled":true,"color":"black","size":60},"encoding":{"x":{"field":"w","type":"quantitative","scale":{"type":"log","domain":[0.11,1000],"nice":false},"axis":null},"y":{"field":"f","type":"quantitative","scale":{"type":"log","domain":[0.001,1000],"nice":false},"axis":null}}},
{"data":{"name":"p7"},"transform":[{"filter":"datum.s=='uv'"}],"mark":{"type":"point","shape":"triangle-up","filled":false,"color":"#0000ff","strokeWidth":1.2,"size":30},"encoding":{"x":{"field":"w","type":"quantitative","scale":{"type":"log","domain":[0.11,1000],"nice":false},"axis":null},"y":{"field":"f","type":"quantitative","scale":{"type":"log","domain":[0.001,1000],"nice":false},"axis":null}}},
{"data":{"values":[{}]},"mark":{"type":"text","align":"left","baseline":"alphabetic","font":"DejaVu Serif","fontSize":11.5},"encoding":{"x":{"datum":0.2,"type":"quantitative","scale":{"type":"log","domain":[0.11,1000],"nice":false},"axis":null},"y":{"datum":180,"type":"quantitative","scale":{"type":"log","domain":[0.001,1000],"nice":false},"axis":null},"text":{"value":"NGC3741"}}},
{"data":{"values":[{}]},"mark":{"type":"text","align":"left","baseline":"alphabetic","font":"DejaVu Serif","fontStyle":"italic","fontSize":13},"encoding":{"x":{"datum":1.1,"type":"quantitative","scale":{"type":"log","domain":[0.11,1000],"nice":false},"axis":null},"y":{"datum":180,"type":"quantitative","scale":{"type":"log","domain":[0.001,1000],"nice":false},"axis":null},"text":{"value":"α"}}},
{"data":{"values":[{}]},"mark":{"type":"text","align":"left","baseline":"alphabetic","font":"DejaVu Sans","fontWeight":"bold","fontSize":7,"dy":4},"encoding":{"x":{"datum":1.38,"type":"quantitative","scale":{"type":"log","domain":[0.11,1000],"nice":false},"axis":null},"y":{"datum":180,"type":"quantitative","scale":{"type":"log","domain":[0.001,1000],"nice":false},"axis":null},"text":{"value":"SED"}}},
{"data":{"values":[{}]},"mark":{"type":"text","align":"left","baseline":"alphabetic","font":"DejaVu Serif","fontSize":11.5},"encoding":{"x":{"datum":1.99,"type":"quantitative","scale":{"type":"log","domain":[0.11,1000],"nice":false},"axis":null},"y":{"datum":180,"type":"quantitative","scale":{"type":"log","domain":[0.001,1000],"nice":false},"axis":null},"text":{"value":"=2.08±0.11"}}}
]},
{"width":347,"height":141.3,"resolve":{"axis":{"x":"independent","y":"independent"}},"layer":[
{"data":{"name":"p8"},"transform":[{"filter":"datum.s=='uv'"}],"mark":{"type":"point","shape":"triangle-up","filled":false,"color":"#0000ff","strokeWidth":1.2,"size":30},"encoding":{"x":{"field":"w","type":"quantitative","scale":{"type":"log","domain":[0.11,1000],"nice":false},"axis":{"orient":"bottom","values":[0.2,0.3,0.4,0.5,0.6,0.7,0.8,0.9,1,2,3,4,5,6,7,8,9,10,20,30,40,50,60,70,80,90,100,200,300,400,500,600,700,800,900,1000],"tickSize":{"condition":{"test":"abs(log(datum.value)/LN10-round(log(datum.value)/LN10))<0.01","value":-8},"value":-4},"labels":false,"title":null}},"y":{"field":"f","type":"quantitative","scale":{"type":"log","domain":[0.001,1000],"nice":false},"axis":{"orient":"left","values":[0.001,0.002,0.003,0.004,0.005,0.006,0.007,0.008,0.009,0.01,0.02,0.03,0.04,0.05,0.06,0.07,0.08,0.09,0.1,0.2,0.3,0.4,0.5,0.6,0.7,0.8,0.9,1,2,3,4,5,6,7,8,9,10,20,30,40,50,60,70,80,90,100,200,300,400,500,600,700,800,900,1000],"tickSize":{"condition":{"test":"abs(log(datum.value)/LN10-round(log(datum.value)/LN10))<0.01","value":-8},"value":-4},"labels":false,"title":null}}}},
{"data":{"name":"p8"},"transform":[{"filter":"datum.ul==1"}],"mark":{"type":"point","shape":"M0,0.6L0,2.3M-0.3,1.6L0,2.8L0.3,1.6Z","filled":true,"fill":"black","stroke":"black","strokeWidth":1.2,"size":100},"encoding":{"x":{"field":"w","type":"quantitative","scale":{"type":"log","domain":[0.11,1000],"nice":false},"axis":{"orient":"top","values":[0.2,0.3,0.4,0.5,0.6,0.7,0.8,0.9,1,2,3,4,5,6,7,8,9,10,20,30,40,50,60,70,80,90,100,200,300,400,500,600,700,800,900,1000],"tickSize":{"condition":{"test":"abs(log(datum.value)/LN10-round(log(datum.value)/LN10))<0.01","value":-8},"value":-4},"labels":false,"title":null}},"y":{"field":"f","type":"quantitative","scale":{"type":"log","domain":[0.001,1000],"nice":false},"axis":{"orient":"right","values":[0.001,0.002,0.003,0.004,0.005,0.006,0.007,0.008,0.009,0.01,0.02,0.03,0.04,0.05,0.06,0.07,0.08,0.09,0.1,0.2,0.3,0.4,0.5,0.6,0.7,0.8,0.9,1,2,3,4,5,6,7,8,9,10,20,30,40,50,60,70,80,90,100,200,300,400,500,600,700,800,900,1000],"tickSize":{"condition":{"test":"abs(log(datum.value)/LN10-round(log(datum.value)/LN10))<0.01","value":-8},"value":-4},"labels":false,"title":null}}}},
{"data":{"name":"p8"},"transform":[{"filter":"datum.s=='ph'"}],"mark":{"type":"point","shape":"circle","filled":true,"color":"black","size":60},"encoding":{"x":{"field":"w","type":"quantitative","scale":{"type":"log","domain":[0.11,1000],"nice":false},"axis":null},"y":{"field":"f","type":"quantitative","scale":{"type":"log","domain":[0.001,1000],"nice":false},"axis":null}}},
{"data":{"name":"p8"},"transform":[{"filter":"datum.s=='jhk'"}],"mark":{"type":"point","shape":"square","filled":true,"color":"#1ee81e","size":28},"encoding":{"x":{"field":"w","type":"quantitative","scale":{"type":"log","domain":[0.11,1000],"nice":false},"axis":null},"y":{"field":"f","type":"quantitative","scale":{"type":"log","domain":[0.001,1000],"nice":false},"axis":null}}},
{"data":{"values":[{}]},"mark":{"type":"text","align":"left","baseline":"alphabetic","font":"DejaVu Serif","fontSize":11.5},"encoding":{"x":{"datum":0.2,"type":"quantitative","scale":{"type":"log","domain":[0.11,1000],"nice":false},"axis":null},"y":{"datum":180,"type":"quantitative","scale":{"type":"log","domain":[0.001,1000],"nice":false},"axis":null},"text":{"value":"UGC06782"}}}
]},
{"width":347,"height":141.3,"resolve":{"axis":{"x":"independent","y":"independent"}},"layer":[
{"data":{"name":"p9"},"transform":[{"filter":"datum.s=='st'"}],"mark":{"type":"line","color":"#0000ff","strokeDash":[2,4],"strokeWidth":1.5},"encoding":{"x":{"field":"w","type":"quantitative","scale":{"type":"log","domain":[0.11,1000],"nice":false},"axis":{"orient":"bottom","values":[0.2,0.3,0.4,0.5,0.6,0.7,0.8,0.9,1,2,3,4,5,6,7,8,9,10,20,30,40,50,60,70,80,90,100,200,300,400,500,600,700,800,900,1000],"tickSize":{"condition":{"test":"abs(log(datum.value)/LN10-round(log(datum.value)/LN10))<0.01","value":-8},"value":-4},"labelPadding":20,"labelExpr":"abs(log(datum.value)/LN10-round(log(datum.value)/LN10))<0.01?format(datum.value,'~g'):''","title":null}},"y":{"field":"f","type":"quantitative","scale":{"type":"log","domain":[0.001,1000],"nice":false},"axis":{"orient":"left","values":[0.001,0.002,0.003,0.004,0.005,0.006,0.007,0.008,0.009,0.01,0.02,0.03,0.04,0.05,0.06,0.07,0.08,0.09,0.1,0.2,0.3,0.4,0.5,0.6,0.7,0.8,0.9,1,2,3,4,5,6,7,8,9,10,20,30,40,50,60,70,80,90,100,200,300,400,500,600,700,800,900,1000],"tickSize":{"condition":{"test":"abs(log(datum.value)/LN10-round(log(datum.value)/LN10))<0.01","value":-8},"value":-4},"labelPadding":12,"labelExpr":"abs(log(datum.value)/LN10-round(log(datum.value)/LN10))<0.01&&datum.value>0.005&&datum.value<500?format(datum.value,'~g'):''","title":null}}}},
{"data":{"name":"p9"},"transform":[{"filter":"datum.s=='irs'"}],"mark":{"type":"line","color":"#ff0000","strokeWidth":1.2},"encoding":{"x":{"field":"w","type":"quantitative","scale":{"type":"log","domain":[0.11,1000],"nice":false},"axis":{"orient":"top","values":[0.2,0.3,0.4,0.5,0.6,0.7,0.8,0.9,1,2,3,4,5,6,7,8,9,10,20,30,40,50,60,70,80,90,100,200,300,400,500,600,700,800,900,1000],"tickSize":{"condition":{"test":"abs(log(datum.value)/LN10-round(log(datum.value)/LN10))<0.01","value":-8},"value":-4},"labels":false,"title":null}},"y":{"field":"f","type":"quantitative","scale":{"type":"log","domain":[0.001,1000],"nice":false},"axis":{"orient":"right","values":[0.001,0.002,0.003,0.004,0.005,0.006,0.007,0.008,0.009,0.01,0.02,0.03,0.04,0.05,0.06,0.07,0.08,0.09,0.1,0.2,0.3,0.4,0.5,0.6,0.7,0.8,0.9,1,2,3,4,5,6,7,8,9,10,20,30,40,50,60,70,80,90,100,200,300,400,500,600,700,800,900,1000],"tickSize":{"condition":{"test":"abs(log(datum.value)/LN10-round(log(datum.value)/LN10))<0.01","value":-8},"value":-4},"labels":false,"title":null}}}},
{"data":{"name":"p9"},"transform":[{"filter":"datum.s=='tot'"}],"mark":{"type":"line","color":"black","strokeWidth":1.2},"encoding":{"x":{"field":"w","type":"quantitative","scale":{"type":"log","domain":[0.11,1000],"nice":false},"axis":null},"y":{"field":"f","type":"quantitative","scale":{"type":"log","domain":[0.001,1000],"nice":false},"axis":null}}},
{"data":{"name":"p9"},"transform":[{"filter":"datum.s=='jhk'"}],"mark":{"type":"point","shape":"square","filled":true,"color":"#1ee81e","size":28},"encoding":{"x":{"field":"w","type":"quantitative","scale":{"type":"log","domain":[0.11,1000],"nice":false},"axis":null},"y":{"field":"f","type":"quantitative","scale":{"type":"log","domain":[0.001,1000],"nice":false},"axis":null}}},
{"data":{"name":"p9"},"transform":[{"filter":"datum.s=='ph'"}],"mark":{"type":"point","shape":"circle","filled":true,"color":"black","size":60},"encoding":{"x":{"field":"w","type":"quantitative","scale":{"type":"log","domain":[0.11,1000],"nice":false},"axis":null},"y":{"field":"f","type":"quantitative","scale":{"type":"log","domain":[0.001,1000],"nice":false},"axis":null}}},
{"data":{"name":"p9"},"transform":[{"filter":"datum.s=='uv'"}],"mark":{"type":"point","shape":"triangle-up","filled":false,"color":"#0000ff","strokeWidth":1.2,"size":30},"encoding":{"x":{"field":"w","type":"quantitative","scale":{"type":"log","domain":[0.11,1000],"nice":false},"axis":null},"y":{"field":"f","type":"quantitative","scale":{"type":"log","domain":[0.001,1000],"nice":false},"axis":null}}},
{"data":{"values":[{"x":65.7,"y":0.38,"x2":26.2,"y2":0.024},{"x":65.7,"y":0.38,"x2":66.8,"y2":0.098},{"x":65.7,"y":0.38,"x2":138,"y2":0.078}]},"mark":{"type":"rule","color":"black","strokeWidth":1},"encoding":{"x":{"field":"x","type":"quantitative","scale":{"type":"log","domain":[0.11,1000],"nice":false},"axis":null},"y":{"field":"y","type":"quantitative","scale":{"type":"log","domain":[0.001,1000],"nice":false},"axis":null},"x2":{"field":"x2"},"y2":{"field":"y2"}}},
{"data":{"values":[{"x":26.2,"y":0.024}]},"mark":{"type":"point","shape":"M0,0L0.5,2L-0.5,2Z","filled":true,"color":"black","size":36,"angle":231},"encoding":{"x":{"field":"x","type":"quantitative","scale":{"type":"log","domain":[0.11,1000],"nice":false},"axis":null},"y":{"field":"y","type":"quantitative","scale":{"type":"log","domain":[0.001,1000],"nice":false},"axis":null}}},
{"data":{"values":[{"x":66.8,"y":0.098}]},"mark":{"type":"point","shape":"M0,0L0.5,2L-0.5,2Z","filled":true,"color":"black","size":36,"angle":180},"encoding":{"x":{"field":"x","type":"quantitative","scale":{"type":"log","domain":[0.11,1000],"nice":false},"axis":null},"y":{"field":"y","type":"quantitative","scale":{"type":"log","domain":[0.001,1000],"nice":false},"axis":null}}},
{"data":{"values":[{"x":138,"y":0.078}]},"mark":{"type":"point","shape":"M0,0L0.5,2L-0.5,2Z","filled":true,"color":"black","size":36,"angle":120},"encoding":{"x":{"field":"x","type":"quantitative","scale":{"type":"log","domain":[0.11,1000],"nice":false},"axis":null},"y":{"field":"y","type":"quantitative","scale":{"type":"log","domain":[0.001,1000],"nice":false},"axis":null}}},
{"data":{"values":[{}]},"mark":{"type":"text","align":"left","baseline":"middle","font":"Liberation Mono","fontSize":12},"encoding":{"x":{"datum":25.1,"type":"quantitative","scale":{"type":"log","domain":[0.11,1000],"nice":false},"axis":null},"y":{"datum":2.4,"type":"quantitative","scale":{"type":"log","domain":[0.001,1000],"nice":false},"axis":null},"text":{"value":"background"}}},
{"data":{"values":[{}]},"mark":{"type":"text","align":"left","baseline":"middle","font":"Liberation Mono","fontSize":12},"encoding":{"x":{"datum":25.1,"type":"quantitative","scale":{"type":"log","domain":[0.11,1000],"nice":false},"axis":null},"y":{"datum":0.74,"type":"quantitative","scale":{"type":"log","domain":[0.001,1000],"nice":false},"axis":null},"text":{"value":"source?"}}},
{"data":{"values":[{}]},"mark":{"type":"text","align":"center","baseline":"alphabetic","font":"DejaVu Serif","fontSize":16},"encoding":{"x":{"datum":0.234,"type":"quantitative","scale":{"type":"log","domain":[0.11,1000],"nice":false},"axis":null},"y":{"datum":0.0052,"type":"quantitative","scale":{"type":"log","domain":[0.001,1000],"nice":false},"axis":null},"text":{"value":"n"}}},
{"data":{"values":[{}]},"mark":{"type":"text","align":"left","baseline":"alphabetic","font":"DejaVu Serif","fontSize":11.5},"encoding":{"x":{"datum":0.2,"type":"quantitative","scale":{"type":"log","domain":[0.11,1000],"nice":false},"axis":null},"y":{"datum":180,"type":"quantitative","scale":{"type":"log","domain":[0.001,1000],"nice":false},"axis":null},"text":{"value":"UGC06817"}}},
{"data":{"values":[{}]},"mark":{"type":"text","align":"left","baseline":"alphabetic","font":"DejaVu Serif","fontStyle":"italic","fontSize":13},"encoding":{"x":{"datum":1.1,"type":"quantitative","scale":{"type":"log","domain":[0.11,1000],"nice":false},"axis":null},"y":{"datum":180,"type":"quantitative","scale":{"type":"log","domain":[0.001,1000],"nice":false},"axis":null},"text":{"value":"α"}}},
{"data":{"values":[{}]},"mark":{"type":"text","align":"left","baseline":"alphabetic","font":"DejaVu Sans","fontWeight":"bold","fontSize":7,"dy":4},"encoding":{"x":{"datum":1.38,"type":"quantitative","scale":{"type":"log","domain":[0.11,1000],"nice":false},"axis":null},"y":{"datum":180,"type":"quantitative","scale":{"type":"log","domain":[0.001,1000],"nice":false},"axis":null},"text":{"value":"SED"}}},
{"data":{"values":[{}]},"mark":{"type":"text","align":"left","baseline":"alphabetic","font":"DejaVu Serif","fontSize":11.5},"encoding":{"x":{"datum":1.99,"type":"quantitative","scale":{"type":"log","domain":[0.11,1000],"nice":false},"axis":null},"y":{"datum":180,"type":"quantitative","scale":{"type":"log","domain":[0.001,1000],"nice":false},"axis":null},"text":{"value":"=2.21±0.14"}}}
]},
{"width":347,"height":141.3,"resolve":{"axis":{"x":"independent","y":"independent"}},"layer":[
{"data":{"name":"p10"},"transform":[{"filter":"datum.s=='st'"}],"mark":{"type":"line","color":"#0000ff","strokeDash":[2,4],"strokeWidth":1.5},"encoding":{"x":{"field":"w","type":"quantitative","scale":{"type":"log","domain":[0.11,1000],"nice":false},"axis":{"orient":"bottom","values":[0.2,0.3,0.4,0.5,0.6,0.7,0.8,0.9,1,2,3,4,5,6,7,8,9,10,20,30,40,50,60,70,80,90,100,200,300,400,500,600,700,800,900,1000],"tickSize":{"condition":{"test":"abs(log(datum.value)/LN10-round(log(datum.value)/LN10))<0.01","value":-8},"value":-4},"labelPadding":20,"labelExpr":"abs(log(datum.value)/LN10-round(log(datum.value)/LN10))<0.01?format(datum.value,'~g'):''","title":null}},"y":{"field":"f","type":"quantitative","scale":{"type":"log","domain":[0.001,1000],"nice":false},"axis":{"orient":"left","values":[0.001,0.002,0.003,0.004,0.005,0.006,0.007,0.008,0.009,0.01,0.02,0.03,0.04,0.05,0.06,0.07,0.08,0.09,0.1,0.2,0.3,0.4,0.5,0.6,0.7,0.8,0.9,1,2,3,4,5,6,7,8,9,10,20,30,40,50,60,70,80,90,100,200,300,400,500,600,700,800,900,1000],"tickSize":{"condition":{"test":"abs(log(datum.value)/LN10-round(log(datum.value)/LN10))<0.01","value":-8},"value":-4},"labels":false,"title":null}}}},
{"data":{"name":"p10"},"transform":[{"filter":"datum.ul==1"}],"mark":{"type":"point","shape":"M0,0.6L0,2.3M-0.3,1.6L0,2.8L0.3,1.6Z","filled":true,"fill":"black","stroke":"black","strokeWidth":1.2,"size":100},"encoding":{"x":{"field":"w","type":"quantitative","scale":{"type":"log","domain":[0.11,1000],"nice":false},"axis":{"orient":"top","values":[0.2,0.3,0.4,0.5,0.6,0.7,0.8,0.9,1,2,3,4,5,6,7,8,9,10,20,30,40,50,60,70,80,90,100,200,300,400,500,600,700,800,900,1000],"tickSize":{"condition":{"test":"abs(log(datum.value)/LN10-round(log(datum.value)/LN10))<0.01","value":-8},"value":-4},"labels":false,"title":null}},"y":{"field":"f","type":"quantitative","scale":{"type":"log","domain":[0.001,1000],"nice":false},"axis":{"orient":"right","values":[0.001,0.002,0.003,0.004,0.005,0.006,0.007,0.008,0.009,0.01,0.02,0.03,0.04,0.05,0.06,0.07,0.08,0.09,0.1,0.2,0.3,0.4,0.5,0.6,0.7,0.8,0.9,1,2,3,4,5,6,7,8,9,10,20,30,40,50,60,70,80,90,100,200,300,400,500,600,700,800,900,1000],"tickSize":{"condition":{"test":"abs(log(datum.value)/LN10-round(log(datum.value)/LN10))<0.01","value":-8},"value":-4},"labels":false,"title":null}}}},
{"data":{"name":"p10"},"transform":[{"filter":"datum.s=='tot'"}],"mark":{"type":"line","color":"black","strokeWidth":1.2},"encoding":{"x":{"field":"w","type":"quantitative","scale":{"type":"log","domain":[0.11,1000],"nice":false},"axis":null},"y":{"field":"f","type":"quantitative","scale":{"type":"log","domain":[0.001,1000],"nice":false},"axis":null}}},
{"data":{"name":"p10"},"transform":[{"filter":"datum.s=='jhk'"}],"mark":{"type":"point","shape":"square","filled":true,"color":"#1ee81e","size":28},"encoding":{"x":{"field":"w","type":"quantitative","scale":{"type":"log","domain":[0.11,1000],"nice":false},"axis":null},"y":{"field":"f","type":"quantitative","scale":{"type":"log","domain":[0.001,1000],"nice":false},"axis":null}}},
{"data":{"name":"p10"},"transform":[{"filter":"datum.s=='ph'"}],"mark":{"type":"point","shape":"circle","filled":true,"color":"black","size":60},"encoding":{"x":{"field":"w","type":"quantitative","scale":{"type":"log","domain":[0.11,1000],"nice":false},"axis":null},"y":{"field":"f","type":"quantitative","scale":{"type":"log","domain":[0.001,1000],"nice":false},"axis":null}}},
{"data":{"name":"p10"},"transform":[{"filter":"datum.s=='uv'"}],"mark":{"type":"point","shape":"triangle-up","filled":false,"color":"#0000ff","strokeWidth":1.2,"size":30},"encoding":{"x":{"field":"w","type":"quantitative","scale":{"type":"log","domain":[0.11,1000],"nice":false},"axis":null},"y":{"field":"f","type":"quantitative","scale":{"type":"log","domain":[0.001,1000],"nice":false},"axis":null}}},
{"data":{"values":[{}]},"mark":{"type":"text","align":"left","baseline":"alphabetic","font":"DejaVu Serif","fontSize":11.5},"encoding":{"x":{"datum":0.2,"type":"quantitative","scale":{"type":"log","domain":[0.11,1000],"nice":false},"axis":null},"y":{"datum":180,"type":"quantitative","scale":{"type":"log","domain":[0.001,1000],"nice":false},"axis":null},"text":{"value":"UGC06900"}}}
]}
],
"datasets":{
"p1":[
{"s":"st","w":0.115,"f":395},{"s":"st","w":0.203,"f":284},{"s":"st","w":0.41,"f":192},{"s":"st","w":0.76,"f":118},{"s":"st","w":1.07,"f":85},{"s":"st","w":1.66,"f":62},{"s":"st","w":2.57,"f":23},{"s":"st","w":4.35,"f":4.1},{"s":"st","w":6.7,"f":1.03},{"s":"st","w":10.4,"f":0.3},{"s":"st","w":16.2,"f":0.089},{"s":"st","w":25,"f":0.024},{"s":"st","w":38.7,"f":0.0066},{"s":"st","w":68,"f":0.0018},{"s":"st","w":85,"f":0.0011},
{"s":"tot","w":1.07,"f":85},{"s":"tot","w":1.25,"f":72},{"s":"tot","w":1.63,"f":62},{"s":"tot","w":2.16,"f":37.5},{"s":"tot","w":2.57,"f":20.9},{"s":"tot","w":3.5,"f":11.2},{"s":"tot","w":4.35,"f":6.2},{"s":"tot","w":5.19,"f":4.2},{"s":"tot","w":5.9,"f":3.6},{"s":"tot","w":6.45,"f":4.1},{"s":"tot","w":7.0,"f":5.3},{"s":"tot","w":7.5,"f":7.8},{"s":"tot","w":7.9,"f":3.8},{"s":"tot","w":8.4,"f":3.3},{"s":"tot","w":9.2,"f":2.76},{"s":"tot","w":10.4,"f":2.9},{"s":"tot","w":11.2,"f":5.3},{"s":"tot","w":11.7,"f":3.8},{"s":"tot","w":12.4,"f":4.1},{"s":"tot","w":13.3,"f":2.0},{"s":"tot","w":14.8,"f":1.44},{"s":"tot","w":17.7,"f":1.1},{"s":"tot","w":21,"f":0.85},{"s":"tot","w":24,"f":0.7},{"s":"tot","w":28.7,"f":0.8},{"s":"tot","w":38.7,"f":1.44},{"s":"tot","w":50.5,"f":2.26},{"s":"tot","w":60,"f":2.9},{"s":"tot","w":78,"f":4.2},{"s":"tot","w":100,"f":6.0},{"s":"tot","w":132,"f":7.3},{"s":"tot","w":160,"f":6.9},{"s":"tot","w":205,"f":4.5},{"s":"tot","w":265,"f":2.0},{"s":"tot","w":347,"f":0.63},{"s":"tot","w":450,"f":0.2},{"s":"tot","w":585,"f":0.065},{"s":"tot","w":760,"f":0.018},{"s":"tot","w":1000,"f":0.0047},{"s":"tot","w":1100,"f":0.003},
{"s":"irs","w":5.19,"f":0.5},{"s":"irs","w":5.56,"f":0.59},{"s":"irs","w":5.81,"f":1.0},{"s":"irs","w":5.96,"f":2.3},{"s":"irs","w":6.45,"f":3.6},{"s":"irs","w":7.0,"f":4.7},{"s":"irs","w":7.5,"f":6.8},{"s":"irs","w":7.9,"f":3.3},{"s":"irs","w":8.4,"f":2.6},{"s":"irs","w":8.8,"f":1.9},{"s":"irs","w":9.6,"f":2.4},{"s":"irs","w":10.4,"f":2.6},{"s":"irs","w":11.2,"f":4.7},{"s":"irs","w":11.7,"f":3.3},{"s":"irs","w":12.4,"f":3.6},{"s":"irs","w":13.3,"f":1.75},{"s":"irs","w":14.8,"f":1.3},
{"s":"uv","w":0.153,"f":0.85},{"s":"uv","w":0.231,"f":1.34},
{"s":"jhk","w":1.25,"f":72},{"s":"jhk","w":1.65,"f":62},{"s":"jhk","w":2.17,"f":37.5},
{"s":"ph","w":3.6,"f":11.2},{"s":"ph","w":4.5,"f":5.6},{"s":"ph","w":5.8,"f":3.8},{"s":"ph","w":8.0,"f":3.0},{"s":"ph","w":24,"f":0.7},{"s":"ph","w":70,"f":3.1},{"s":"ph","w":160,"f":7.1},
{"s":"iso","w":60,"f":2.9},{"s":"iso","w":100,"f":6.2}
],
"p2":[
{"s":"st","w":0.111,"f":510},{"s":"st","w":0.197,"f":267},{"s":"st","w":0.434,"f":138},{"s":"st","w":0.673,"f":107},{"s":"st","w":1.045,"f":85},{"s":"st","w":1.62,"f":67},{"s":"st","w":2.52,"f":29},{"s":"st","w":3.58,"f":15},{"s":"st","w":6.06,"f":3.2},{"s":"st","w":9.4,"f":0.97},{"s":"st","w":14.6,"f":0.28},{"s":"st","w":22.6,"f":0.076},{"s":"st","w":35,"f":0.017},{"s":"st","w":54.6,"f":0.004},{"s":"st","w":81,"f":0.001},
{"s":"tot","w":1.045,"f":85},{"s":"tot","w":1.25,"f":85},{"s":"tot","w":1.65,"f":72},{"s":"tot","w":2.17,"f":47},{"s":"tot","w":2.52,"f":29},{"s":"tot","w":3.0,"f":21},{"s":"tot","w":3.58,"f":15},{"s":"tot","w":4.46,"f":8.6},{"s":"tot","w":5.1,"f":7.3},{"s":"tot","w":5.55,"f":6.9},{"s":"tot","w":5.8,"f":14},{"s":"tot","w":6.06,"f":32},{"s":"tot","w":6.4,"f":19.5},{"s":"tot","w":6.7,"f":27},{"s":"tot","w":7.2,"f":40},{"s":"tot","w":7.55,"f":47},{"s":"tot","w":8.0,"f":29},{"s":"tot","w":8.6,"f":16.6},{"s":"tot","w":9.4,"f":14},{"s":"tot","w":10.3,"f":14},{"s":"tot","w":11.0,"f":27},{"s":"tot","w":11.4,"f":41},{"s":"tot","w":12.0,"f":27},{"s":"tot","w":12.8,"f":23},{"s":"tot","w":13.6,"f":14},{"s":"tot","w":15.2,"f":10.2},{"s":"tot","w":17.4,"f":8.6},{"s":"tot","w":23.7,"f":9.5},{"s":"tot","w":35,"f":21},{"s":"tot","w":45.6,"f":29},{"s":"tot","w":59,"f":37},{"s":"tot","w":77,"f":49},{"s":"tot","w":100,"f":57},{"s":"tot","w":125,"f":57},{"s":"tot","w":157,"f":47},{"s":"tot","w":203,"f":27},{"s":"tot","w":265,"f":12},{"s":"tot","w":346,"f":4.5},{"s":"tot","w":450,"f":1.43},{"s":"tot","w":587,"f":0.39},{"s":"tot","w":763,"f":0.1},{"s":"tot","w":1040,"f":0.02},{"s":"tot","w":1100,"f":0.015},
{"s":"irs","w":5.2,"f":3.2},{"s":"irs","w":5.55,"f":4.1},{"s":"irs","w":5.8,"f":6.9},{"s":"irs","w":5.95,"f":10.2},
{"s":"uv","w":0.153,"f":6.9},{"s":"uv","w":0.231,"f":9.2},
{"s":"jhk","w":1.25,"f":85},{"s":"jhk","w":1.65,"f":72},{"s":"jhk","w":2.17,"f":47},
{"s":"ph","w":3.6,"f":16},{"s":"ph","w":4.5,"f":8.1},{"s":"ph","w":5.8,"f":12},{"s":"ph","w":8.0,"f":21},{"s":"ph","w":24,"f":9.8},{"s":"ph","w":70,"f":43},{"s":"ph","w":160,"f":44},
{"s":"iso","w":60,"f":37},{"s":"iso","w":100,"f":49}
],
"p3":[
{"s":"st","w":0.115,"f":382},{"s":"st","w":0.222,"f":218},{"s":"st","w":0.41,"f":143},{"s":"st","w":0.76,"f":88},{"s":"st","w":1.07,"f":70},{"s":"st","w":1.66,"f":57},{"s":"st","w":2.57,"f":20},{"s":"st","w":4.35,"f":4.0},{"s":"st","w":6.7,"f":0.97},{"s":"st","w":10.4,"f":0.25},{"s":"st","w":16.2,"f":0.074},{"s":"st","w":25,"f":0.018},{"s":"st","w":38.7,"f":0.0049},{"s":"st","w":65,"f":0.0016},{"s":"st","w":81,"f":0.00095},
{"s":"tot","w":1.07,"f":70},{"s":"tot","w":1.25,"f":63},{"s":"tot","w":1.63,"f":57},{"s":"tot","w":2.16,"f":37},{"s":"tot","w":2.69,"f":18},{"s":"tot","w":3.5,"f":13.6},{"s":"tot","w":4.35,"f":7.6},{"s":"tot","w":5.4,"f":5.5},{"s":"tot","w":5.9,"f":11},{"s":"tot","w":6.45,"f":28},{"s":"tot","w":6.85,"f":17},{"s":"tot","w":7.5,"f":41},{"s":"tot","w":8.2,"f":12.3},{"s":"tot","w":9.6,"f":11},{"s":"tot","w":10.4,"f":12.3},{"s":"tot","w":11.2,"f":35},{"s":"tot","w":12.2,"f":14.6},{"s":"tot","w":14.2,"f":11},{"s":"tot","w":19.3,"f":6.5},{"s":"tot","w":24,"f":6.0},{"s":"tot","w":38.7,"f":14.5},{"s":"tot","w":60,"f":28},{"s":"tot","w":101,"f":43},{"s":"tot","w":132,"f":49},{"s":"tot","w":160,"f":42},{"s":"tot","w":224,"f":20},{"s":"tot","w":347,"f":2.8},{"s":"tot","w":537,"f":0.4},{"s":"tot","w":832,"f":0.066},{"s":"tot","w":1082,"f":0.025},
{"s":"irs","w":5.19,"f":3.35},{"s":"irs","w":5.56,"f":4.0},{"s":"irs","w":5.81,"f":6.0},{"s":"irs","w":5.96,"f":8.3},
{"s":"uv","w":0.231,"f":2.6},
{"s":"jhk","w":1.25,"f":63},{"s":"jhk","w":1.65,"f":57},{"s":"jhk","w":2.17,"f":37},
{"s":"ph","w":3.6,"f":13.6},{"s":"ph","w":4.5,"f":7.3},{"s":"ph","w":5.8,"f":10},{"s":"ph","w":8.0,"f":17},{"s":"ph","w":24,"f":6.5},{"s":"ph","w":70,"f":32},{"s":"ph","w":160,"f":39},
{"s":"iso","w":60,"f":32},{"s":"iso","w":100,"f":36}
],
"p4":[
{"s":"st","w":0.111,"f":2.05},{"s":"st","w":0.197,"f":1.26},{"s":"st","w":0.28,"f":0.91},{"s":"st","w":0.35,"f":0.66},{"s":"st","w":0.4,"f":0.85},{"s":"st","w":0.45,"f":0.97},{"s":"st","w":0.67,"f":0.72},{"s":"st","w":1.045,"f":0.5},{"s":"st","w":1.25,"f":0.376},{"s":"st","w":1.65,"f":0.316},{"s":"st","w":2.17,"f":0.166},{"s":"st","w":3.58,"f":0.048},{"s":"st","w":5.55,"f":0.015},{"s":"st","w":7.9,"f":0.0049},{"s":"st","w":10.3,"f":0.0024},{"s":"st","w":13.4,"f":0.0013},
{"s":"tot","w":1.045,"f":0.5},{"s":"tot","w":1.25,"f":0.376},{"s":"tot","w":1.65,"f":0.316},{"s":"tot","w":2.17,"f":0.166},{"s":"tot","w":2.52,"f":0.092},{"s":"tot","w":3.0,"f":0.066},{"s":"tot","w":3.58,"f":0.048},{"s":"tot","w":4.46,"f":0.025},{"s":"tot","w":5.55,"f":0.017},{"s":"tot","w":6.06,"f":0.019},{"s":"tot","w":6.5,"f":0.017},{"s":"tot","w":6.9,"f":0.023},{"s":"tot","w":7.55,"f":0.035},{"s":"tot","w":8.0,"f":0.018},{"s":"tot","w":8.6,"f":0.012},{"s":"tot","w":9.8,"f":0.01},{"s":"tot","w":10.5,"f":0.013},{"s":"tot","w":11.2,"f":0.025},{"s":"tot","w":12.0,"f":0.011},{"s":"tot","w":13.4,"f":0.0079},{"s":"tot","w":15.2,"f":0.0063},{"s":"tot","w":20.7,"f":0.0049},{"s":"tot","w":24.7,"f":0.0052},{"s":"tot","w":35,"f":0.0093},{"s":"tot","w":45.6,"f":0.0144},{"s":"tot","w":59,"f":0.021},{"s":"tot","w":77,"f":0.032},{"s":"tot","w":100,"f":0.037},{"s":"tot","w":143,"f":0.035},{"s":"tot","w":203,"f":0.018},{"s":"tot","w":315,"f":0.0042},{"s":"tot","w":450,"f":0.001},
{"s":"irs","w":5.2,"f":0.0021},{"s":"irs","w":5.45,"f":0.003},{"s":"irs","w":5.65,"f":0.0058},{"s":"irs","w":5.9,"f":0.011},
{"s":"uv","w":0.153,"f":0.23},{"s":"uv","w":0.231,"f":0.23},
{"s":"jhk","w":1.25,"f":0.376},{"s":"jhk","w":1.65,"f":0.316},{"s":"jhk","w":2.17,"f":0.166},
{"s":"ph","w":3.6,"f":0.048},{"s":"ph","w":4.5,"f":0.021},{"s":"ph","w":5.8,"f":0.0152},{"s":"ph","w":8.0,"f":0.0087},{"s":"ph","w":24,"f":0.0027},{"s":"ph","w":70,"f":0.044},{"s":"ph","w":160,"f":0.027}
],
"p5":[
{"s":"st","w":0.115,"f":1.8},{"s":"st","w":0.156,"f":1.45},{"s":"st","w":0.232,"f":0.94},{"s":"st","w":0.34,"f":0.58},{"s":"st","w":0.39,"f":0.72},{"s":"st","w":0.447,"f":0.8},{"s":"st","w":0.63,"f":0.58},{"s":"st","w":0.98,"f":0.39},{"s":"st","w":1.25,"f":0.29},{"s":"st","w":1.63,"f":0.245},{"s":"st","w":2.16,"f":0.18},{"s":"st","w":2.57,"f":0.095},{"s":"st","w":4.35,"f":0.026},{"s":"st","w":6.7,"f":0.0098},{"s":"st","w":10.4,"f":0.0031},{"s":"st","w":13.6,"f":0.00136},
{"s":"tot","w":1.07,"f":0.35},{"s":"tot","w":1.25,"f":0.29},{"s":"tot","w":1.63,"f":0.245},{"s":"tot","w":2.16,"f":0.18},{"s":"tot","w":2.57,"f":0.087},{"s":"tot","w":3.5,"f":0.05},{"s":"tot","w":4.35,"f":0.026},{"s":"tot","w":5.4,"f":0.0135},{"s":"tot","w":6.2,"f":0.012},{"s":"tot","w":6.85,"f":0.0187},{"s":"tot","w":7.5,"f":0.028},{"s":"tot","w":8.2,"f":0.0158},{"s":"tot","w":9.6,"f":0.0081},{"s":"tot","w":10.4,"f":0.0098},{"s":"tot","w":11.2,"f":0.022},{"s":"tot","w":12.2,"f":0.012},{"s":"tot","w":14.2,"f":0.0077},{"s":"tot","w":17.7,"f":0.0081},{"s":"tot","w":24,"f":0.0098},{"s":"tot","w":38.7,"f":0.022},{"s":"tot","w":60,"f":0.035},{"s":"tot","w":101,"f":0.045},{"s":"tot","w":132,"f":0.043},{"s":"tot","w":224,"f":0.022},{"s":"tot","w":300,"f":0.0095},{"s":"tot","w":350,"f":0.005},{"s":"tot","w":400,"f":0.0022},{"s":"tot","w":430,"f":0.0012},
{"s":"irs","w":5.19,"f":0.0019},{"s":"irs","w":5.56,"f":0.0027},{"s":"irs","w":5.76,"f":0.0043},{"s":"irs","w":5.96,"f":0.0071},
{"s":"uv","w":0.153,"f":0.63},{"s":"uv","w":0.231,"f":0.49},
{"s":"jhk","w":1.25,"f":0.29},{"s":"jhk","w":1.65,"f":0.245},{"s":"jhk","w":2.17,"f":0.18},
{"s":"ph","w":3.6,"f":0.045},{"s":"ph","w":4.5,"f":0.025},{"s":"ph","w":5.8,"f":0.0098},{"s":"ph","w":8.0,"f":0.0082},{"s":"ph","w":24,"f":0.0088},{"s":"ph","w":70,"f":0.083},{"s":"ph","w":160,"f":0.017}
],
"p6":[
{"s":"st","w":0.111,"f":17.7},{"s":"st","w":0.197,"f":10.8},{"s":"st","w":0.28,"f":7.8},{"s":"st","w":0.36,"f":5.3},{"s":"st","w":0.45,"f":8.6},{"s":"st","w":0.67,"f":6.2},{"s":"st","w":1.045,"f":4.1},{"s":"st","w":1.25,"f":3.5},{"s":"st","w":1.65,"f":2.76},{"s":"st","w":2.17,"f":1.52},{"s":"st","w":3.58,"f":0.54},{"s":"st","w":6.06,"f":0.095},{"s":"st","w":10.3,"f":0.016},{"s":"st","w":19,"f":0.0026},{"s":"st","w":27,"f":0.00115},
{"s":"tot","w":1.045,"f":4.1},{"s":"tot","w":1.25,"f":3.5},{"s":"tot","w":1.65,"f":2.76},{"s":"tot","w":2.17,"f":1.52},{"s":"tot","w":2.52,"f":1.17},{"s":"tot","w":3.0,"f":0.8},{"s":"tot","w":3.58,"f":0.54},{"s":"tot","w":4.46,"f":0.3},{"s":"tot","w":5.55,"f":0.2},{"s":"tot","w":6.06,"f":0.25},{"s":"tot","w":6.4,"f":0.31},{"s":"tot","w":6.9,"f":0.39},{"s":"tot","w":7.55,"f":0.68},{"s":"tot","w":8.0,"f":0.39},{"s":"tot","w":8.6,"f":0.21},{"s":"tot","w":9.8,"f":0.19},{"s":"tot","w":10.5,"f":0.23},{"s":"tot","w":11.2,"f":0.68},{"s":"tot","w":12.0,"f":0.23},{"s":"tot","w":13.4,"f":0.18},{"s":"tot","w":15.2,"f":0.17},{"s":"tot","w":20.7,"f":0.18},{"s":"tot","w":23.7,"f":0.166},{"s":"tot","w":35,"f":0.39},{"s":"tot","w":45.6,"f":0.6},{"s":"tot","w":59,"f":0.85},{"s":"tot","w":77,"f":1.0},{"s":"tot","w":100,"f":1.17},{"s":"tot","w":143,"f":0.93},{"s":"tot","w":203,"f":0.49},{"s":"tot","w":315,"f":0.11},{"s":"tot","w":490,"f":0.016},{"s":"tot","w":700,"f":0.003},{"s":"tot","w":910,"f":0.001},
{"s":"irs","w":5.2,"f":0.058},{"s":"irs","w":5.55,"f":0.077},{"s":"irs","w":5.8,"f":0.11},{"s":"irs","w":5.95,"f":0.155},
{"s":"uv","w":0.153,"f":2.76},{"s":"uv","w":0.231,"f":2.34},
{"s":"jhk","w":1.25,"f":3.5},{"s":"jhk","w":1.65,"f":2.76},{"s":"jhk","w":2.17,"f":1.52},
{"s":"ph","w":3.6,"f":0.54},{"s":"ph","w":4.5,"f":0.3},{"s":"ph","w":5.8,"f":0.24},{"s":"ph","w":8.0,"f":0.195},{"s":"ph","w":24,"f":0.166},{"s":"ph","w":70,"f":1.29},{"s":"ph","w":160,"f":0.68},
{"s":"iso","w":60,"f":1.1},{"s":"iso","w":100,"f":1.17}
],
"p7":[
{"s":"st","w":0.115,"f":1.78},{"s":"st","w":0.156,"f":1.28},{"s":"st","w":0.232,"f":0.92},{"s":"st","w":0.34,"f":0.6},{"s":"st","w":0.39,"f":0.74},{"s":"st","w":0.447,"f":0.84},{"s":"st","w":0.63,"f":0.6},{"s":"st","w":0.98,"f":0.44},{"s":"st","w":1.25,"f":0.3},{"s":"st","w":1.63,"f":0.28},{"s":"st","w":2.16,"f":0.165},{"s":"st","w":2.57,"f":0.086},{"s":"st","w":4.35,"f":0.0186},{"s":"st","w":6.7,"f":0.0071},{"s":"st","w":10.4,"f":0.0022},{"s":"st","w":13,"f":0.0011},
{"s":"tot","w":1.07,"f":0.38},{"s":"tot","w":1.25,"f":0.316},{"s":"tot","w":1.63,"f":0.316},{"s":"tot","w":2.16,"f":0.165},{"s":"tot","w":2.57,"f":0.081},{"s":"tot","w":3.5,"f":0.045},{"s":"tot","w":4.35,"f":0.026},{"s":"tot","w":5.4,"f":0.016},{"s":"tot","w":6.2,"f":0.022},{"s":"tot","w":6.85,"f":0.022},{"s":"tot","w":7.5,"f":0.035},{"s":"tot","w":8.2,"f":0.0135},{"s":"tot","w":9.6,"f":0.0083},{"s":"tot","w":10.4,"f":0.0115},{"s":"tot","w":11.2,"f":0.03},{"s":"tot","w":12.2,"f":0.012},{"s":"tot","w":14.2,"f":0.0078},{"s":"tot","w":17.7,"f":0.0083},{"s":"tot","w":24,"f":0.0089},{"s":"tot","w":38.7,"f":0.026},{"s":"tot","w":60,"f":0.04},{"s":"tot","w":101,"f":0.05},{"s":"tot","w":132,"f":0.045},{"s":"tot","w":224,"f":0.019},{"s":"tot","w":300,"f":0.0095},{"s":"tot","w":347,"f":0.0051},{"s":"tot","w":400,"f":0.0023},{"s":"tot","w":430,"f":0.0011},
{"s":"irs","w":5.19,"f":0.0026},{"s":"irs","w":5.56,"f":0.0037},{"s":"irs","w":5.76,"f":0.0052},{"s":"irs","w":5.96,"f":0.0098},
{"s":"uv","w":0.153,"f":0.71},{"s":"uv","w":0.231,"f":0.53},
{"s":"jhk","w":1.25,"f":0.27},{"s":"jhk","w":1.65,"f":0.35},{"s":"jhk","w":2.17,"f":0.165},
{"s":"ph","w":3.6,"f":0.042},{"s":"ph","w":4.5,"f":0.022},{"s":"ph","w":5.8,"f":0.0089},{"s":"ph","w":8.0,"f":0.0039},{"s":"ph","w":24,"f":0.0071},{"s":"ph","w":70,"f":0.081},{"s":"ph","w":160,"f":0.023}
],
"p8":[
{"s":"uv","w":0.153,"f":0.14,"ul":0},{"s":"uv","w":0.231,"f":0.14,"ul":0},
{"s":"jhk","w":1.25,"f":0.12,"ul":1},{"s":"jhk","w":1.65,"f":0.14,"ul":1},{"s":"jhk","w":2.17,"f":0.123,"ul":1},
{"s":"ph","w":3.6,"f":0.03,"ul":0},{"s":"ph","w":4.5,"f":0.017,"ul":0},{"s":"ph","w":5.8,"f":0.0083,"ul":1},{"s":"ph","w":8.0,"f":0.0064,"ul":1},{"s":"ph","w":24,"f":0.0071,"ul":1},{"s":"ph","w":70,"f":0.034,"ul":1},{"s":"ph","w":160,"f":0.055,"ul":1}
],
"p9":[
{"s":"st","w":0.115,"f":3.3},{"s":"st","w":0.156,"f":2.5},{"s":"st","w":0.232,"f":1.7},{"s":"st","w":0.36,"f":1.0},{"s":"st","w":0.41,"f":1.28},{"s":"st","w":0.467,"f":1.55},{"s":"st","w":0.63,"f":1.23},{"s":"st","w":0.98,"f":0.86},{"s":"st","w":1.25,"f":0.62},{"s":"st","w":1.63,"f":0.51},{"s":"st","w":2.16,"f":0.32},{"s":"st","w":2.57,"f":0.17},{"s":"st","w":4.35,"f":0.032},{"s":"st","w":6.7,"f":0.0118},{"s":"st","w":10.4,"f":0.0038},{"s":"st","w":15.5,"f":0.0012},
{"s":"tot","w":1.07,"f":0.76},{"s":"tot","w":1.25,"f":0.59},{"s":"tot","w":1.63,"f":0.51},{"s":"tot","w":2.16,"f":0.32},{"s":"tot","w":2.57,"f":0.16},{"s":"tot","w":3.5,"f":0.083},{"s":"tot","w":4.35,"f":0.044},{"s":"tot","w":5.4,"f":0.022},{"s":"tot","w":6.2,"f":0.026},{"s":"tot","w":6.85,"f":0.031},{"s":"tot","w":7.5,"f":0.056},{"s":"tot","w":8.2,"f":0.026},{"s":"tot","w":9.6,"f":0.016},{"s":"tot","w":10.4,"f":0.022},{"s":"tot","w":11.2,"f":0.041},{"s":"tot","w":12.2,"f":0.022},{"s":"tot","w":14.2,"f":0.0118},{"s":"tot","w":17.7,"f":0.0099},{"s":"tot","w":24,"f":0.0093},{"s":"tot","w":38.7,"f":0.022},{"s":"tot","w":60,"f":0.044},{"s":"tot","w":101,"f":0.065},{"s":"tot","w":132,"f":0.062},{"s":"tot","w":224,"f":0.022},{"s":"tot","w":300,"f":0.0105},{"s":"tot","w":347,"f":0.0052},{"s":"tot","w":400,"f":0.0025},{"s":"tot","w":470,"f":0.0012},
{"s":"irs","w":5.19,"f":0.0038},{"s":"irs","w":5.56,"f":0.0048},{"s":"irs","w":5.76,"f":0.0073},{"s":"irs","w":5.96,"f":0.014},
{"s":"uv","w":0.153,"f":1.0},{"s":"uv","w":0.231,"f":0.87},
{"s":"jhk","w":1.25,"f":0.59},{"s":"jhk","w":1.65,"f":0.51},{"s":"jhk","w":2.17,"f":0.32},
{"s":"ph","w":3.6,"f":0.073},{"s":"ph","w":4.5,"f":0.035},{"s":"ph","w":5.8,"f":0.022},{"s":"ph","w":8.0,"f":0.0137},{"s":"ph","w":24,"f":0.0093},{"s":"ph","w":70,"f":0.056},{"s":"ph","w":160,"f":0.044}
],
"p10":[
{"s":"st","w":0.111,"f":2.8,"ul":0},{"s":"st","w":0.197,"f":1.8,"ul":0},{"s":"st","w":0.28,"f":1.32,"ul":0},{"s":"st","w":0.35,"f":0.95,"ul":0},{"s":"st","w":0.45,"f":1.41,"ul":0},{"s":"st","w":0.67,"f":1.12,"ul":0},{"s":"st","w":1.045,"f":0.76,"ul":0},
{"s":"tot","w":1.045,"f":0.76,"ul":0},{"s":"tot","w":1.25,"f":0.6,"ul":0},{"s":"tot","w":1.65,"f":0.45,"ul":0},{"s":"tot","w":2.17,"f":0.26,"ul":0},{"s":"tot","w":2.52,"f":0.16,"ul":0},{"s":"tot","w":3.58,"f":0.083,"ul":0},{"s":"tot","w":5.08,"f":0.032,"ul":0},{"s":"tot","w":7.2,"f":0.0119,"ul":0},{"s":"tot","w":10.3,"f":0.0038,"ul":0},{"s":"tot","w":15.3,"f":0.0012,"ul":0},
{"s":"uv","w":0.153,"f":0.083,"ul":0},{"s":"uv","w":0.231,"f":0.095,"ul":0},
{"s":"jhk","w":1.25,"f":0.6,"ul":0},{"s":"jhk","w":1.65,"f":0.35,"ul":0},{"s":"jhk","w":2.17,"f":0.26,"ul":0},
{"s":"ph","w":3.6,"f":0.068,"ul":0},{"s":"ph","w":4.5,"f":0.039,"ul":0},{"s":"ph","w":5.8,"f":0.029,"ul":0},{"s":"ph","w":8.0,"f":0.016,"ul":0},{"s":"ph","w":24,"f":0.0054,"ul":0},{"s":"ph","w":70,"f":0.046,"ul":1},{"s":"ph","w":160,"f":0.077,"ul":1}
]
},
"config":{
"view":{"stroke":"black","strokeWidth":1.3},
"axis":{"grid":false,"domain":false,"tickColor":"black","tickWidth":1,"labelFont":"DejaVu Serif","labelFontSize":16,"labelColor":"black","labelFlush":false,"labelOverlap":false,"labelBound":false,"labelAngle":0},
"point":{"opacity":1},
"text":{"color":"black"}
}
}
